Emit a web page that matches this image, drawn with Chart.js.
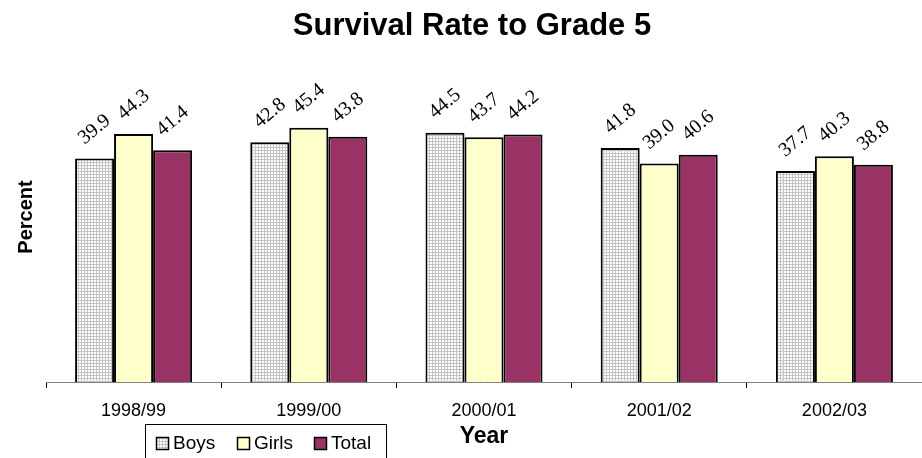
<!DOCTYPE html>
<html>
<head>
<meta charset="utf-8">
<script src="https://cdn.jsdelivr.net/npm/chart.js@4.4.1/dist/chart.umd.min.js"></script>
<style>
  html, body { margin: 0; padding: 0; background: #fff; }
  #wrap { width: 922px; height: 458px; position: relative; }
</style>
</head>
<body>
<div id="wrap"><canvas id="myChart" width="922" height="458"></canvas></div>
<script>
const years = ["1998/99", "1999/00", "2000/01", "2001/02", "2002/03"];
const boys = [39.9, 42.8, 44.5, 41.8, 37.7];
const girls = [44.3, 45.4, 43.7, 39.0, 40.3];
const total = [41.4, 43.8, 44.2, 40.6, 38.8];
const seriesNames = ["Boys", "Girls", "Total"];

// small grid pattern for the Boys bars
function gridPattern() {
  const c = document.createElement("canvas");
  c.width = 3;
  c.height = 3;
  const g = c.getContext("2d");
  g.fillStyle = "#ffffff";
  g.fillRect(0, 0, 3, 3);
  g.fillStyle = "#c4c4c4";
  g.fillRect(0, 0, 3, 1);
  g.fillRect(0, 0, 1, 3);
  return g.createPattern(c, "repeat");
}

const ctx = document.getElementById("myChart");
const boysFill = gridPattern();
const fills = [boysFill, "#ffffcc", "#993366"];

const extras = {
  id: "extras",
  afterDraw(chart) {
    const c = chart.ctx;
    c.save();
    c.fillStyle = "#000";

    // title
    c.font = "bold 31px 'Liberation Sans', Arial, sans-serif";
    c.textAlign = "center";
    c.textBaseline = "alphabetic";
    c.fillText("Survival Rate to Grade 5", 472, 35);

    // y axis title
    c.save();
    c.translate(32, 217);
    c.rotate(-Math.PI / 2);
    c.font = "bold 20px 'Liberation Sans', Arial, sans-serif";
    c.fillText("Percent", 0, 0);
    c.restore();

    // value labels, tilted
    c.font = "20px 'Liberation Serif', 'Times New Roman', serif";
    c.textBaseline = "middle";
    chart.data.datasets.forEach((ds, i) => {
      chart.getDatasetMeta(i).data.forEach((bar, j) => {
        c.save();
        c.translate(bar.x, bar.y - 29);
        c.rotate(-40 * Math.PI / 180);
        c.fillText(ds.data[j].toFixed(1), 0, 0);
        c.restore();
      });
    });

    // legend box
    c.lineWidth = 1;
    c.strokeStyle = "#000";
    c.strokeRect(145.5, 424.5, 241, 40);
    const markX = [156, 237, 314];
    c.font = "19px 'Liberation Sans', Arial, sans-serif";
    c.textAlign = "left";
    seriesNames.forEach((name, i) => {
      c.fillStyle = fills[i];
      c.fillRect(markX[i], 437, 13, 13);
      c.lineWidth = 1.5;
      c.strokeRect(markX[i] + 0.5, 437.5, 12, 12);
      c.fillStyle = "#000";
      c.fillText(name, markX[i] + 17, 444);
    });
    c.restore();
  },
};

const myChart = new Chart(ctx, {
  type: "bar",
  data: {
    labels: years,
    datasets: [boys, girls, total].map((vals, i) => ({
      label: seriesNames[i],
      data: vals,
      backgroundColor: fills[i],
      borderColor: "#000",
      borderWidth: 2,
      borderSkipped: "bottom",
      categoryPercentage: 0.668,
      barPercentage: 1,
    })),
  },
  options: {
    responsive: false,
    animation: false,
    devicePixelRatio: 1,
    layout: { padding: { top: 102, left: 46, right: 0, bottom: 0 } },
    plugins: {
      legend: { display: false },
      title: { display: false },
      tooltip: { enabled: false },
    },
    scales: {
      x: {
        afterFit(scale) {
          scale.height = 76;
        },
        grid: {
          offset: true,
          drawOnChartArea: false,
          drawTicks: true,
          tickLength: 6,
          color: "#000",
        },
        border: { color: "#808080", width: 1 },
        ticks: {
          padding: 12,
          color: "#000",
          font: { family: "'Liberation Sans', Arial, sans-serif", size: 18 },
        },
        title: {
          display: true,
          text: "Year",
          color: "#000",
          padding: { top: 0, bottom: 8 },
          font: { family: "'Liberation Sans', Arial, sans-serif", size: 23, weight: "bold" },
        },
      },
      y: {
        display: false,
        min: 0,
        max: 50,
      },
    },
  },
  plugins: [extras],
});
</script>
</body>
</html>
